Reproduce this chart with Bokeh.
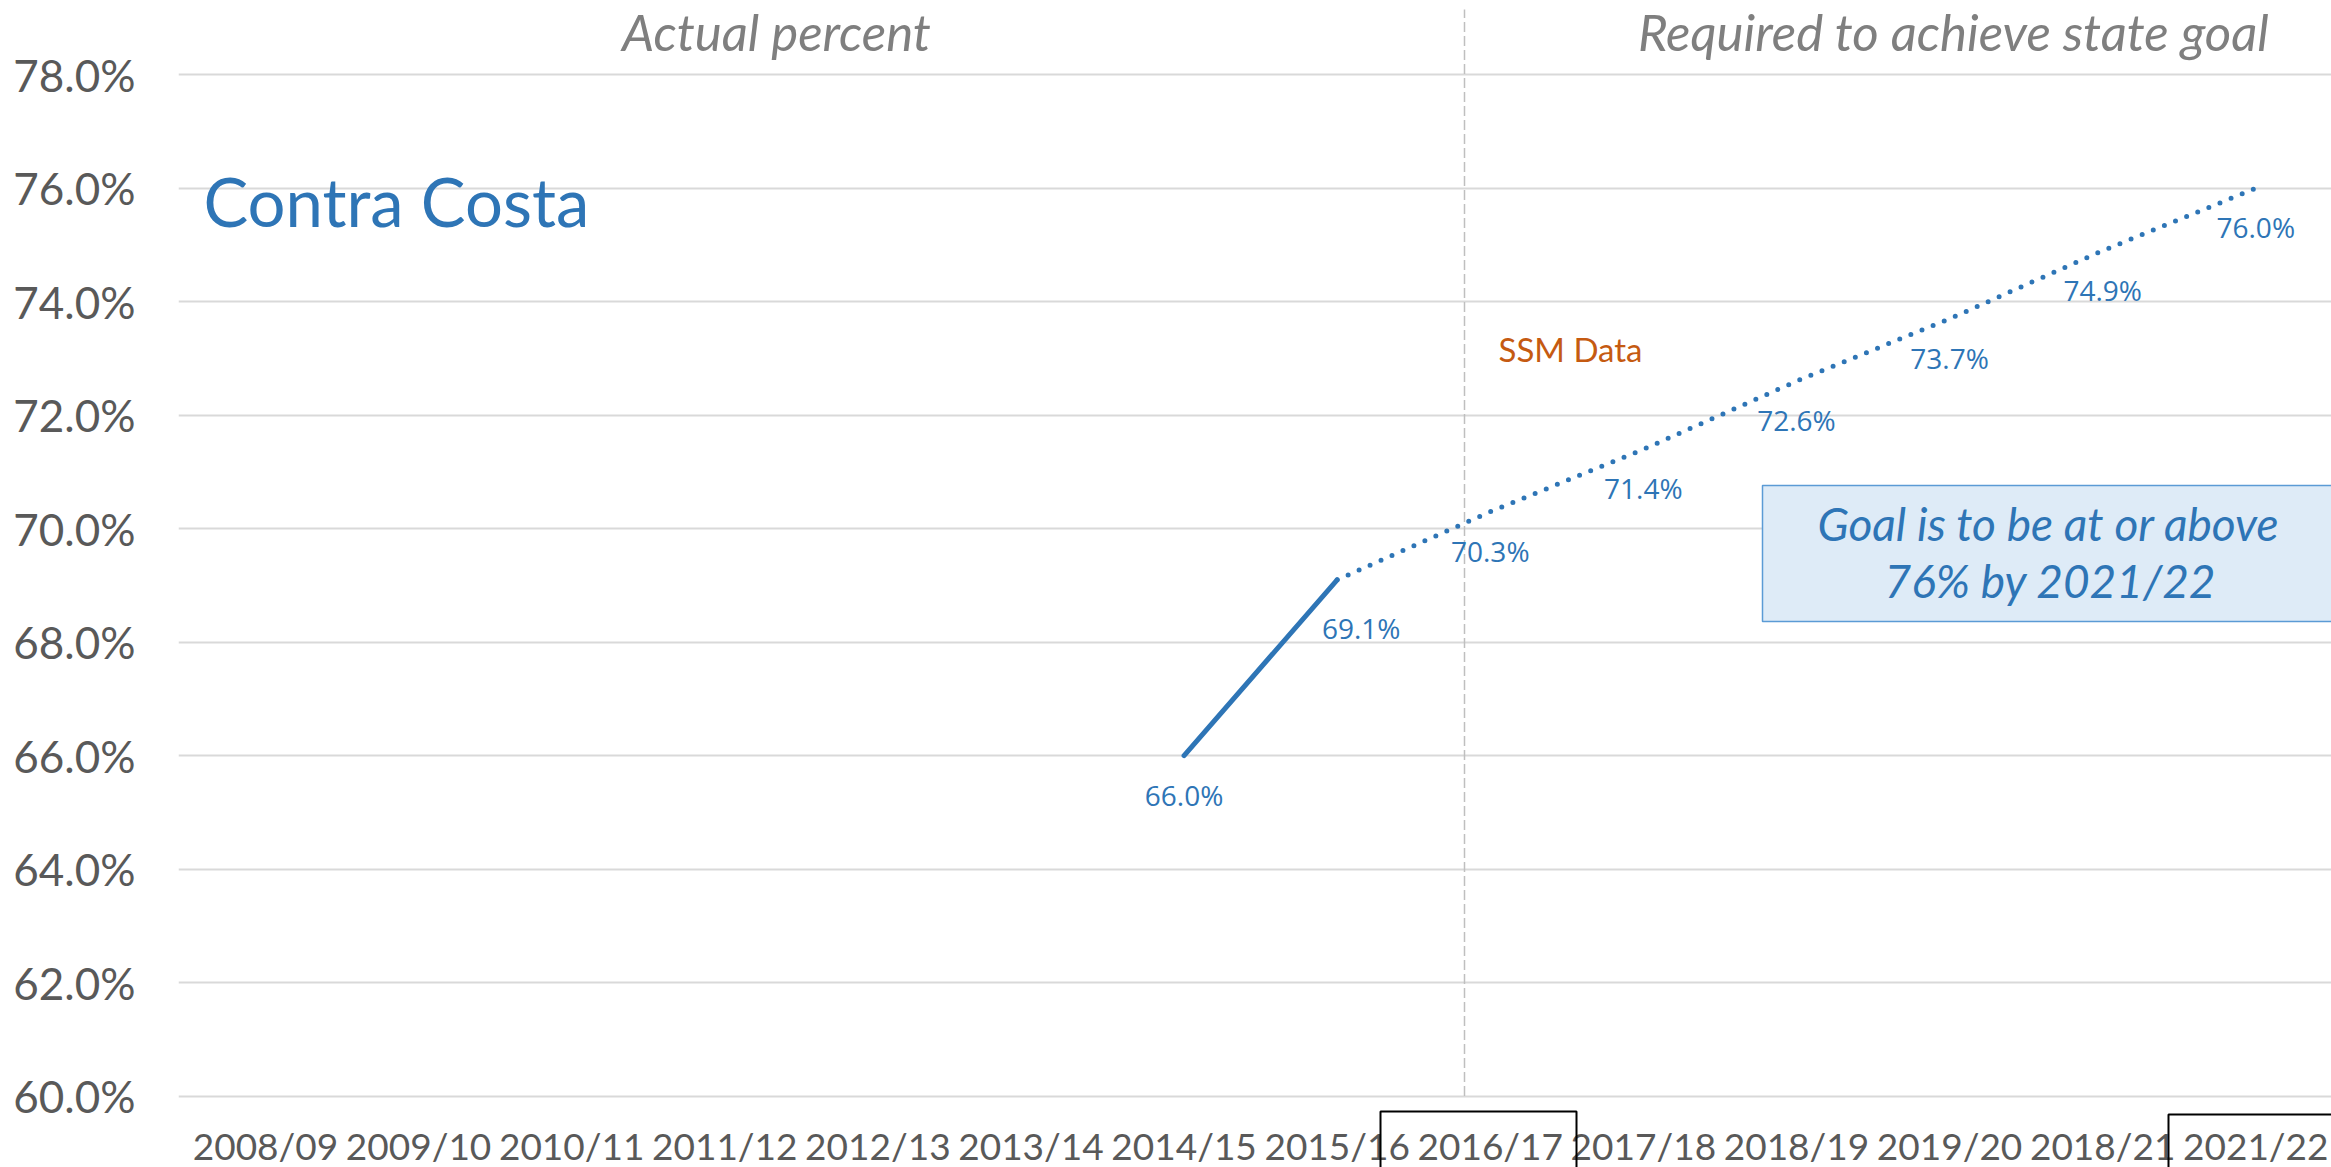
import math
from bokeh.plotting import figure
from bokeh.models import Range1d, FixedTicker, PrintfTickFormatter, ColumnDataSource
from bokeh.core.properties import value
from bokeh.embed import file_html
from bokeh.resources import INLINE

# ---------------- data ----------------
categories = ["2008/09", "2009/10", "2010/11", "2011/12", "2012/13", "2013/14", "2014/15",
              "2015/16", "2016/17", "2017/18", "2018/19", "2019/20", "2018/21", "2021/22"]
nan = float("nan")
actual = [nan, nan, nan, nan, nan, nan, 66.0, 69.1, nan, nan, nan, nan, nan, nan]
required = [nan, nan, nan, nan, nan, nan, nan, 69.1, 70.3, 71.4, 72.6, 73.7, 74.9, 76.0]
y_ticks = [60, 62, 64, 66, 68, 70, 72, 74, 76, 78]
boxed_categories = ["2016/17", "2021/22"]

# ---------------- layout helpers ----------------
W, H = 2331, 1167
LEFT = 178
PX_X = 153.1
PX_Y = 56.74
x_start = -0.568
x_end = x_start + (W - LEFT) / PX_X
y_end = 78 + 74.3 / PX_Y
y_start = y_end - H / PX_Y

def dx(cx):
    return x_start + (cx - LEFT) / PX_X

def dy(cy):
    return y_end - cy / PX_Y

BLUE = "#2e75b6"
GREY_TXT = "#595959"

p = figure(width=W, height=H, output_backend="svg", toolbar_location=None,
           x_range=Range1d(x_start, x_end), y_range=Range1d(y_start, y_end),
           min_border_left=LEFT, min_border_right=0, min_border_top=0, min_border_bottom=0,
           x_axis_location=None)
p.outline_line_color = None
p.background_fill_color = "white"
p.border_fill_color = "white"

p.xgrid.grid_line_color = None
p.ygrid.grid_line_color = "#d9d9d9"
p.ygrid.grid_line_width = 2

ax = p.yaxis[0]
ax.ticker = FixedTicker(ticks=y_ticks)
ax.formatter = PrintfTickFormatter(format="%.1f%%")
ax.axis_line_color = None
ax.major_tick_line_color = None
ax.minor_tick_line_color = None
ax.major_label_standoff = 37
ax.major_label_text_font = "Lato"
ax.major_label_text_font_size = "44px"
ax.major_label_text_color = GREY_TXT
p.ygrid.ticker = FixedTicker(ticks=y_ticks)

xs = list(range(len(categories)))

# divider
p.segment(x0=[dx(1464)], y0=[60], x1=[dx(1464)], y1=[dy(9)], line_color="#bfbfbf",
          line_width=1.5, line_dash="10 4")

# goal box
p.quad(left=[dx(1762)], right=[x_end + 1], top=[dy(485)], bottom=[dy(621)],
       fill_color="#deebf7", line_color="#5b9bd5", line_width=1.5)

# lines
p.line(xs, actual, line_color=BLUE, line_width=5, line_cap="round")
p.line(xs, required, line_color=BLUE, line_width=5, line_dash="0 12", line_cap="round")

# data labels
lab_x, lab_y, lab_t = [], [], []
for i, (a, r) in enumerate(zip(actual, required)):
    v = a if not math.isnan(a) else r
    if math.isnan(v):
        continue
    lab_x.append(i); lab_y.append(v); lab_t.append(f"{v:.1f}%")
main = ColumnDataSource(dict(x=[x for x, t in zip(lab_x, lab_t) if t != "69.1%"],
                             y=[y for y, t in zip(lab_y, lab_t) if t != "69.1%"],
                             t=[t for t in lab_t if t != "69.1%"]))
p.text(x="x", y="y", text="t", source=main, text_align="center", text_baseline="middle",
       y_offset=39, text_font=value("Open Sans"), text_font_size="28px", text_color=BLUE)
special = ColumnDataSource(dict(x=[x for x, t in zip(lab_x, lab_t) if t == "69.1%"],
                                y=[y for y, t in zip(lab_y, lab_t) if t == "69.1%"],
                                t=[t for t in lab_t if t == "69.1%"]))
p.text(x="x", y="y", text="t", source=special, text_align="center", text_baseline="middle",
       x_offset=24, y_offset=48, text_font=value("Open Sans"), text_font_size="28px", text_color=BLUE)

# category labels (x axis)
p.text(x=xs, y=[dy(1145)] * len(xs), text=categories, text_align="center", text_baseline="middle",
       text_font=value("Lato"), text_font_size="37px", text_color=GREY_TXT)

# boxes around highlighted categories
bi = [categories.index(c) for c in boxed_categories]
p.quad(left=[dx(1380), dx(2168)], right=[dx(1576), x_end + 1],
       top=[dy(1111), dy(1114)], bottom=[y_start - 1, y_start - 1],
       fill_color=None, line_color="black", line_width=2)

# annotations
p.text(x=[dx(203)], y=[dy(200)], text=["Contra Costa"], text_align="left", text_baseline="middle",
       text_font=value("Lato"), text_font_size="67px", text_color=BLUE)
p.text(x=[dx(776), dx(1953)], y=[dy(31), dy(31)],
       text=["Actual percent", "Required to achieve state goal"],
       text_align="center", text_baseline="middle", text_font=value("Lato"),
       text_font_style="italic", text_font_size="51px", text_color="#7f7f7f")
p.text(x=[dx(1498)], y=[dy(348)], text=["SSM Data"], text_align="left", text_baseline="middle",
       text_font=value("Lato"), text_font_size="33px", text_color="#c55a11")
p.text(x=[dx(2048), dx(2050)], y=[dy(523), dy(580)],
       text=["Goal is to be at or above", "76% by 2021/22"],
       text_align="center", text_baseline="middle", text_font=value("Lato"),
       text_font_style="italic", text_font_size="46px", text_color=BLUE)

open("out.html", "w").write(file_html(p, INLINE))
